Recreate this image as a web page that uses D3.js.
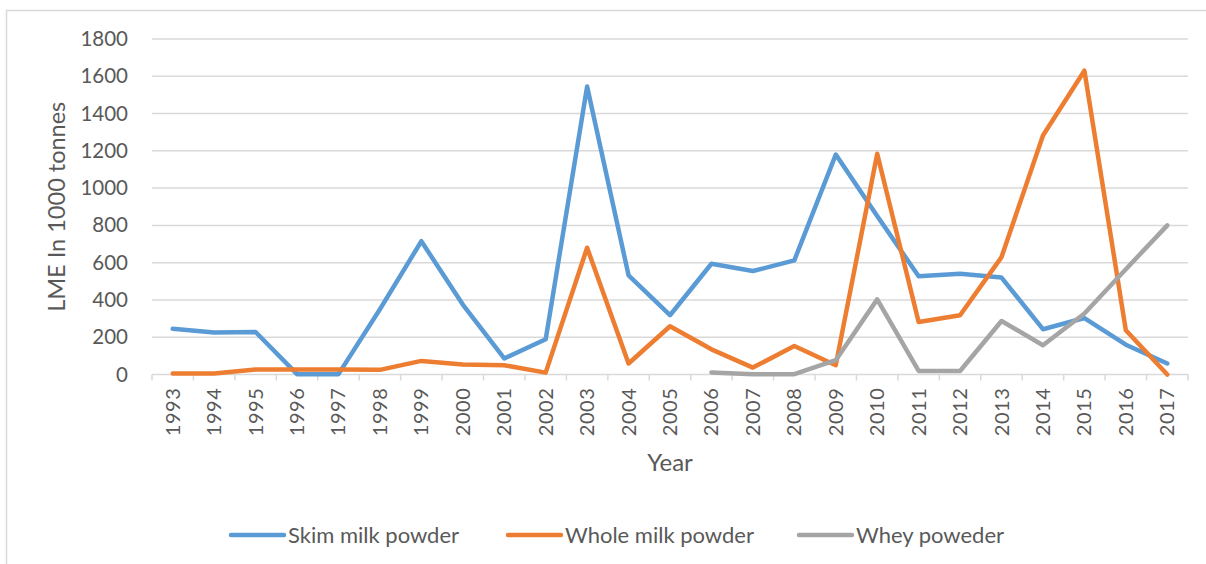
<!DOCTYPE html>
<html>
<head>
<meta charset="utf-8">
<script src="https://cdn.jsdelivr.net/npm/d3@7"></script>
<style>
  html, body { margin: 0; padding: 0; background: #fff; }
  svg { display: block; font-family: Lato, "Open Sans", sans-serif; }
</style>
</head>
<body>
<svg id="chart" width="1206" height="564"></svg>
<script>
// Milk product volumes (LME, 1000 tonnes) by year
const years = ["1993","1994","1995","1996","1997","1998","1999","2000","2001","2002","2003","2004","2005","2006","2007","2008","2009","2010","2011","2012","2013","2014","2015","2016","2017"];
const skimMilk  = [245, 225, 228, 2, 2, 350, 715, 375, 86, 189, 1545, 532, 318, 594, 555, 612, 1180, 850, 527, 541, 520, 243, 303, 160, 59];
const wholeMilk = [5, 5, 27, 27, 27, 25, 73, 54, 50, 10, 680, 59, 259, 135, 37, 153, 50, 1184, 282, 318, 630, 1282, 1630, 237, 0];
const wheyPowder = [null, null, null, null, null, null, null, null, null, null, null, null, null, 11, 2, 2, 77, 403, 19, 19, 287, 157, 327, 565, 800];
const seriesNames = ["Skim milk powder", "Whole milk powder", "Whey poweder"];
const yTicks = [0, 200, 400, 600, 800, 1000, 1200, 1400, 1600, 1800];

const colors = ["#5B9BD5", "#ED7D31", "#A5A5A5"];
const series = [skimMilk, wholeMilk, wheyPowder].map((vals, i) => ({
  name: seriesNames[i], color: colors[i], values: vals
}));

const svg = d3.select("#chart");
const plot = { left: 152, right: 1188, top: 39, bottom: 374.5 };
const textColor = "#595959";
const gridColor = "#D9D9D9";

// chart area border
svg.append("rect")
  .attr("x", 6.5).attr("y", 10.5)
  .attr("width", 1220).attr("height", 600)
  .attr("fill", "#fff").attr("stroke", gridColor).attr("stroke-width", 1.5);

const x = d3.scaleBand().domain(years).range([plot.left, plot.right]);
const y = d3.scaleLinear().domain([0, 1800]).range([plot.bottom, plot.top]);

// horizontal gridlines
svg.append("g").selectAll("line")
  .data(yTicks.filter(t => t > 0))
  .join("line")
  .attr("x1", plot.left).attr("x2", plot.right)
  .attr("y1", d => y(d)).attr("y2", d => y(d))
  .attr("stroke", gridColor).attr("stroke-width", 1.5);

// y axis labels
const yAxis = d3.axisLeft(y).tickValues(yTicks).tickFormat(d3.format("d")).tickSize(0).tickPadding(0);
const gy = svg.append("g").attr("transform", `translate(${plot.left - 24},0)`).call(yAxis);
gy.select(".domain").remove();
gy.selectAll("text")
  .attr("fill", textColor).attr("font-size", 20.5).attr("font-family", "Lato, sans-serif");

// x axis with category ticks at band boundaries
const gx = svg.append("g").attr("transform", `translate(0,${plot.bottom})`);
gx.append("line")
  .attr("x1", plot.left).attr("x2", plot.right)
  .attr("stroke", gridColor).attr("stroke-width", 1.5);
gx.selectAll("line.tick")
  .data(d3.range(years.length + 1))
  .join("line").attr("class", "tick")
  .attr("x1", i => plot.left + i * x.step()).attr("x2", i => plot.left + i * x.step())
  .attr("y1", 0).attr("y2", 6)
  .attr("stroke", gridColor).attr("stroke-width", 1.5);
gx.selectAll("text")
  .data(years)
  .join("text")
  .attr("transform", d => `translate(${x(d) + x.bandwidth() / 2},13) rotate(-90)`)
  .attr("text-anchor", "end")
  .attr("dy", "0.35em")
  .attr("fill", textColor).attr("font-size", 20)
  .attr("letter-spacing", 0.6)
  .text(d => d);

// axis titles
svg.append("text")
  .attr("transform", `translate(65,${(plot.top + plot.bottom) / 2}) rotate(-90)`)
  .attr("text-anchor", "middle")
  .attr("fill", textColor).attr("font-size", 23.5)
  .text("LME In 1000 tonnes");
svg.append("text")
  .attr("x", (plot.left + plot.right) / 2).attr("y", 471)
  .attr("text-anchor", "middle")
  .attr("fill", textColor).attr("font-size", 24)
  .text("Year");

// series lines
const line = d3.line()
  .defined(d => d.v !== null)
  .x(d => x(d.year) + x.bandwidth() / 2)
  .y(d => y(d.v));

svg.append("g").selectAll("path")
  .data(series)
  .join("path")
  .attr("d", s => line(s.values.map((v, i) => ({ year: years[i], v }))))
  .attr("fill", "none")
  .attr("stroke", s => s.color)
  .attr("stroke-width", 4.5)
  .attr("stroke-linejoin", "round")
  .attr("stroke-linecap", "round");

// legend
const legendX = [231, 508, 799];
const lg = svg.append("g").selectAll("g")
  .data(series)
  .join("g")
  .attr("transform", (s, i) => `translate(${legendX[i]},535)`);
lg.append("line")
  .attr("x1", 0).attr("x2", 53)
  .attr("stroke", s => s.color).attr("stroke-width", 4.5)
  .attr("stroke-linecap", "round");
lg.append("text")
  .attr("x", 57).attr("dy", "0.35em")
  .attr("fill", textColor).attr("font-size", 22)
  .text(s => s.name);
</script>
</body>
</html>
